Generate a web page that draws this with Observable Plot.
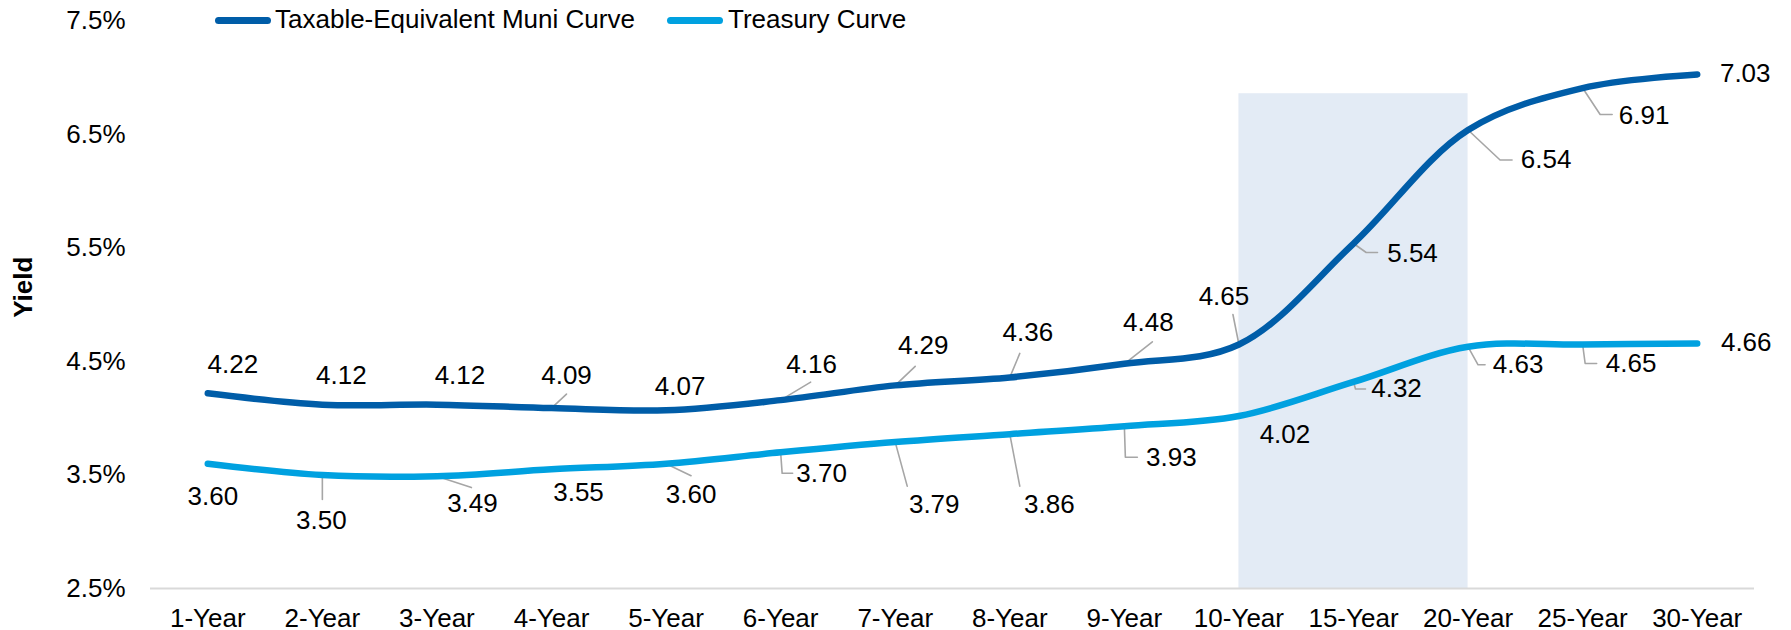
<!DOCTYPE html>
<html>
<head>
<meta charset="utf-8">
<script src="https://cdn.jsdelivr.net/npm/d3@7"></script>
<script src="https://cdn.jsdelivr.net/npm/@observablehq/plot@0.6"></script>
<style>
  html, body { margin: 0; padding: 0; background: #fff; }
  #wrap { position: relative; width: 1791px; height: 630px; font-family: "Liberation Sans", Arial, sans-serif; }
  .lg-line { position: absolute; height: 7px; border-radius: 4px; }
  .lg-text { position: absolute; font-size: 26px; line-height: 26px; color: #000; white-space: nowrap; }
</style>
</head>
<body>
<div id="wrap"></div>
<script>
// ---- data ----
const categories = ["1-Year","2-Year","3-Year","4-Year","5-Year","6-Year","7-Year","8-Year","9-Year","10-Year","15-Year","20-Year","25-Year","30-Year"];
const muni = [4.22,4.12,4.12,4.09,4.07,4.16,4.29,4.36,4.48,4.65,5.54,6.54,6.91,7.03];
const treasury = [3.60,3.50,3.49,3.55,3.60,3.70,3.79,3.86,3.93,4.02,4.32,4.63,4.65,4.66];
const yTicks = [2.5,3.5,4.5,5.5,6.5,7.5];
const seriesNames = ["Taxable-Equivalent Muni Curve","Treasury Curve"];
const shadeFrom = "10-Year", shadeTo = "20-Year", shadeTop = 6.86;

// ---- annotation layout (pixel offsets of data labels relative to their point) ----
const muniLabelOffset = [[25,-29],[19,-29],[23,-29],[15,-32],[14,-24],[31,-35],[28,-40],[18,-45],[24,-41],[-15,-48],[59,10],[78,30],[61.5,27.5],[48,-1]];
const muniLeader = [null,null,null,[[0,0],[15,-14]],null,[[0,0],[30,-18]],[[0,0],[20,-19]],[[0,0],[10,-24]],[[0,0],[28,-22]],[[0,0],[-6,-30]],[[0,0],[12.7,9],[24,9]],[[0,0],[32,30],[44,30]],[[0,0],[17.5,26.5],[29.5,26.5]],null];
const tsyLabelOffset = [[5,33],[-1,45.5],[35.5,28],[27,23],[25,31],[41,21],[39,63],[39.5,71],[47,31],[46,18.5],[43,7],[50,18],[48.5,19],[49,-1]];
const tsyLeader = [null,[[0,0],[0,24.5]],[[0,0],[34.5,11.4]],null,[[0,0],[25,12]],[[0,0],[1.5,21],[12,21]],[[0,0],[12,44]],[[0,0],[10,52]],[[0,0],[1,31],[13,31]],null,[[0,0],[2,7],[12,7]],[[0,0],[10,18],[17,18]],[[0,0],[2.5,19],[14,19]],null];

const colors = {muni: "#005DA8", tsy: "#00A1E0", shade: "#E3EBF5", leader: "#A6A6A6", axis: "#D9D9D9"};

// ---- layout ----
const W = 1791, H = 630, ML = 150, MR = 37, MT = 20.6, MB = 42;
const kx = (W - ML - MR) / categories.length;   // px per category step
const ky = (H - MT - MB) / (yTicks[yTicks.length-1] - yTicks[0]); // px per 1%

const rows = (vals, series) => vals.map((v, i) => ({i, v, series}));
const muniRows = rows(muni, "muni"), tsyRows = rows(treasury, "tsy");

function labelRows(vals, offs) {
  return vals.map((v, i) => ({x: i + offs[i][0] / kx, y: v - offs[i][1] / ky, text: v.toFixed(2)}));
}
function leaderRows(vals, leaders, key) {
  const out = [];
  vals.forEach((v, i) => {
    if (!leaders[i]) return;
    leaders[i].forEach(([dx, dy]) => out.push({id: key + i, x: i + dx / kx, y: v - dy / ky}));
  });
  return out;
}

const labels = [...labelRows(muni, muniLabelOffset), ...labelRows(treasury, tsyLabelOffset)];
const leaders = [...leaderRows(muni, muniLeader, "m"), ...leaderRows(treasury, tsyLeader, "t")];

const font = "'Liberation Sans', Arial, sans-serif";

const chart = Plot.plot({
  width: W, height: H,
  marginLeft: ML, marginRight: MR, marginTop: MT, marginBottom: MB,
  style: {fontFamily: font, fontSize: "26px", color: "#000", background: "transparent", overflow: "visible"},
  x: {type: "linear", domain: [-0.5, categories.length - 0.5], ticks: d3.range(categories.length),
      tickFormat: i => categories[i], tickSize: 0, tickPadding: 20, label: null},
  y: {domain: [yTicks[0], yTicks[yTicks.length-1]], ticks: yTicks, tickFormat: d => d.toFixed(1) + "%",
      tickSize: 0, tickPadding: 25, label: null},
  marks: [
    Plot.rect([{x1: categories.indexOf(shadeFrom), x2: categories.indexOf(shadeTo), y1: yTicks[0], y2: shadeTop}],
      {x1: "x1", x2: "x2", y1: "y1", y2: "y2", fill: colors.shade}),
    Plot.ruleY([yTicks[0]], {stroke: colors.axis, strokeWidth: 2}),
    Plot.line(leaders, {x: "x", y: "y", z: "id", stroke: colors.leader, strokeWidth: 1.6}),
    Plot.line(tsyRows, {x: "i", y: "v", stroke: colors.tsy, strokeWidth: 6.5, curve: "catmull-rom", strokeLinecap: "round"}),
    Plot.line(muniRows, {x: "i", y: "v", stroke: colors.muni, strokeWidth: 6.5, curve: "catmull-rom", strokeLinecap: "round"}),
    Plot.text(labels, {x: "x", y: "y", text: "text", fontSize: 26, fill: "#000", textAnchor: "middle"}),
    Plot.text(["Yield"], {frameAnchor: "left", dx: -127, dy: 13, rotate: -90, text: d => d, fontSize: 26, fontWeight: "bold", fill: "#000"})
  ]
});

const wrap = document.getElementById("wrap");
wrap.appendChild(chart);

// legend overlay (top)
const legend = [
  {name: seriesNames[0], color: colors.muni, lx: 215, tx: 275},
  {name: seriesNames[1], color: colors.tsy, lx: 667, tx: 728}
];
legend.forEach(l => {
  const ln = document.createElement("div");
  ln.className = "lg-line";
  ln.style.left = l.lx + "px"; ln.style.top = (20 - 3.5) + "px"; ln.style.width = "56px"; ln.style.background = l.color;
  wrap.appendChild(ln);
  const t = document.createElement("div");
  t.className = "lg-text";
  t.style.left = l.tx + "px"; t.style.top = (20 - 14) + "px";
  t.textContent = l.name;
  wrap.appendChild(t);
});
chart.style.position = "absolute"; chart.style.left = "0"; chart.style.top = "0";
</script>
</body>
</html>
